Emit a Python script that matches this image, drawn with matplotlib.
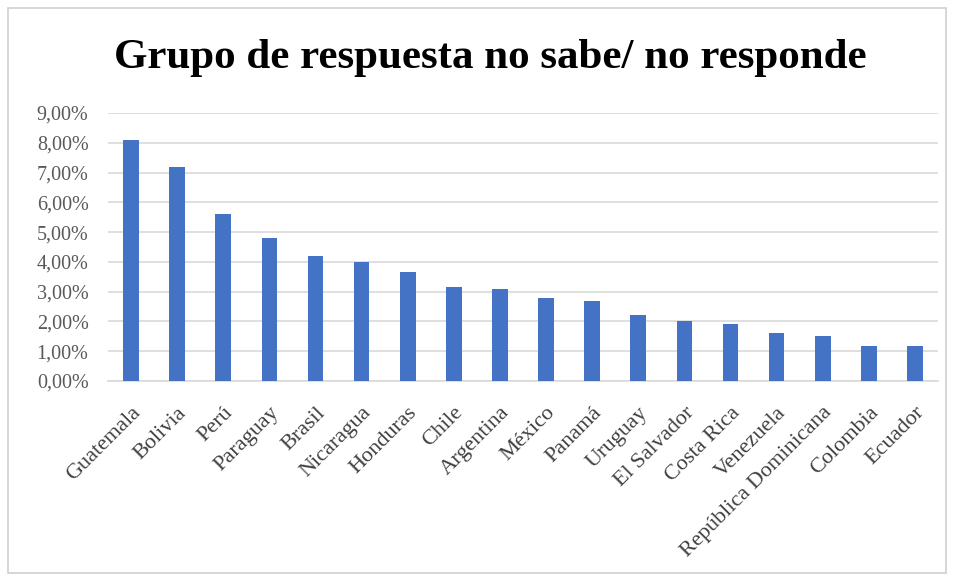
import matplotlib
matplotlib.use("Agg")
import matplotlib.pyplot as plt
from matplotlib.patches import Rectangle

countries = ["Guatemala", "Bolivia", "Perú", "Paraguay", "Brasil", "Nicaragua",
             "Honduras", "Chile", "Argentina", "México", "Panamá", "Uruguay",
             "El Salvador", "Costa Rica", "Venezuela", "República Dominicana",
             "Colombia", "Ecuador"]
values = [8.1, 7.2, 5.6, 4.8, 4.2, 4.0, 3.65, 3.15, 3.1, 2.8, 2.7, 2.2,
          2.0, 1.9, 1.6, 1.5, 1.17, 1.17]
yticks = [0, 1, 2, 3, 4, 5, 6, 7, 8, 9]
ytick_labels = ["0,00%", "1,00%", "2,00%", "3,00%", "4,00%", "5,00%",
                "6,00%", "7,00%", "8,00%", "9,00%"]
title = "Grupo de respuesta no sabe/ no responde"

plt.rcParams['font.family'] = ['Liberation Serif', 'DejaVu Serif']

fig = plt.figure(figsize=(9.54, 5.81), dpi=100)
fig.patch.set_facecolor("white")
fig.patches.append(Rectangle((8/954, 8/581), 1 - 16/954, 1 - 16/581,
                             transform=fig.transFigure, fill=False,
                             edgecolor="#d0d0d0", linewidth=1.2))

ax = fig.add_axes([108/954, 1 - 381/581, (938 - 108)/954, (381 - 113)/581])
x = list(range(len(countries)))
ax.bar(x, values, width=0.34, color="#4472C4", zorder=3)
ax.set_xlim(-0.5, len(countries) - 0.5)
ax.set_ylim(0, 9)
ax.set_yticks(yticks)
ax.set_yticklabels(ytick_labels, fontsize=14.5, color="#595959")
ax.set_xticks(x)
ax.set_xticklabels(countries, rotation=45, ha="right", rotation_mode="anchor",
                   fontsize=16, color="#404040")
ax.tick_params(axis="y", length=0, pad=14)
ax.tick_params(axis="x", length=0, pad=16)
ax.yaxis.grid(True, color="#d9d9d9", linewidth=1.2, zorder=0)
ax.set_axisbelow(True)
for s in ["top", "right", "left"]:
    ax.spines[s].set_visible(False)
ax.spines["bottom"].set_color("#d9d9d9")
ax.spines["bottom"].set_linewidth(1.2)

fig.text(490/954, 1 - 58/581, title, ha="center", va="center",
         fontsize=31, fontweight="bold", color="#000000")

fig.savefig("out.png", dpi=100)
